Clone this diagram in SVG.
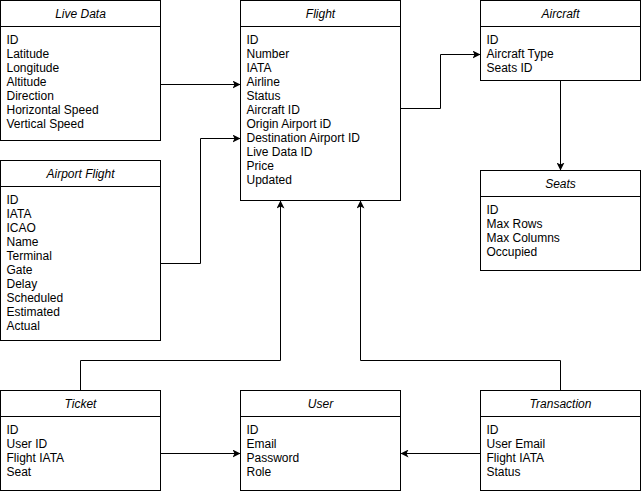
<svg xmlns="http://www.w3.org/2000/svg" width="641" height="494" viewBox="0 0 641 494">
<style>
  .box { fill: #ffffff; stroke: #000000; stroke-width: 1; }
  .sep { stroke: #000000; stroke-width: 1; }
  .hdr { font-family: "Liberation Sans", Arial, Helvetica, sans-serif; font-size: 12px; font-style: italic; text-anchor: middle; fill: #000000; }
  .fld { font-family: "Liberation Sans", Arial, Helvetica, sans-serif; font-size: 12px; fill: #000000; }
  .conn { fill: none; stroke: #000000; stroke-width: 1; marker-end: url(#arr); }
</style>
<defs>
  <marker id="arr" viewBox="0 0 8 8" markerWidth="8" markerHeight="8" refX="8" refY="4" orient="auto" markerUnits="userSpaceOnUse">
    <path d="M0,0 L8,4 L0,8 L2,4 Z" fill="#000000"/>
  </marker>
</defs>
<rect width="641" height="494" fill="#ffffff"/>

<g id="connectors">
  <path class="conn" d="M160.5,84.5 H240.5"/>
  <path class="conn" d="M160.5,263.5 H200.5 V138.5 H240.5"/>
  <path class="conn" d="M400.5,108.5 H440.5 V54.5 H480.5"/>
  <path class="conn" d="M560.5,80.5 V170.5"/>
  <path class="conn" d="M80.5,390.5 V360.5 H280.5 V200.5"/>
  <path class="conn" d="M560.5,390.5 V360.5 H360.5 V200.5"/>
  <path class="conn" d="M160.5,453.5 H240.5"/>
  <path class="conn" d="M480.5,453.5 H400.5"/>
</g>

<g id="live-data">
  <rect class="box" x="0.5" y="0.5" width="160" height="140"/>
  <line class="sep" x1="0.5" y1="26.5" x2="160.5" y2="26.5"/>
  <text class="hdr" x="80.5" y="18">Live Data</text>
  <text class="fld" x="6.5" y="44">ID</text>
  <text class="fld" x="6.5" y="58">Latitude</text>
  <text class="fld" x="6.5" y="72">Longitude</text>
  <text class="fld" x="6.5" y="86">Altitude</text>
  <text class="fld" x="6.5" y="100">Direction</text>
  <text class="fld" x="6.5" y="114">Horizontal Speed</text>
  <text class="fld" x="6.5" y="128">Vertical Speed</text>
</g>

<g id="airport-flight">
  <rect class="box" x="0.5" y="160.5" width="160" height="180"/>
  <line class="sep" x1="0.5" y1="186.5" x2="160.5" y2="186.5"/>
  <text class="hdr" x="80.5" y="178">Airport Flight</text>
  <text class="fld" x="6.5" y="204">ID</text>
  <text class="fld" x="6.5" y="218">IATA</text>
  <text class="fld" x="6.5" y="232">ICAO</text>
  <text class="fld" x="6.5" y="246">Name</text>
  <text class="fld" x="6.5" y="260">Terminal</text>
  <text class="fld" x="6.5" y="274">Gate</text>
  <text class="fld" x="6.5" y="288">Delay</text>
  <text class="fld" x="6.5" y="302">Scheduled</text>
  <text class="fld" x="6.5" y="316">Estimated</text>
  <text class="fld" x="6.5" y="330">Actual</text>
</g>

<g id="flight">
  <rect class="box" x="240.5" y="0.5" width="160" height="200"/>
  <line class="sep" x1="240.5" y1="26.5" x2="400.5" y2="26.5"/>
  <text class="hdr" x="320.5" y="18">Flight</text>
  <text class="fld" x="246.5" y="44">ID</text>
  <text class="fld" x="246.5" y="58">Number</text>
  <text class="fld" x="246.5" y="72">IATA</text>
  <text class="fld" x="246.5" y="86">Airline</text>
  <text class="fld" x="246.5" y="100">Status</text>
  <text class="fld" x="246.5" y="114">Aircraft ID</text>
  <text class="fld" x="246.5" y="128">Origin Airport iD</text>
  <text class="fld" x="246.5" y="142">Destination Airport ID</text>
  <text class="fld" x="246.5" y="156">Live Data ID</text>
  <text class="fld" x="246.5" y="170">Price</text>
  <text class="fld" x="246.5" y="184">Updated</text>
</g>

<g id="aircraft">
  <rect class="box" x="480.5" y="0.5" width="160" height="80"/>
  <line class="sep" x1="480.5" y1="26.5" x2="640.5" y2="26.5"/>
  <text class="hdr" x="560.5" y="18">Aircraft</text>
  <text class="fld" x="486.5" y="44">ID</text>
  <text class="fld" x="486.5" y="58">Aircraft Type</text>
  <text class="fld" x="486.5" y="72">Seats ID</text>
</g>

<g id="seats">
  <rect class="box" x="480.5" y="170.5" width="160" height="100"/>
  <line class="sep" x1="480.5" y1="196.5" x2="640.5" y2="196.5"/>
  <text class="hdr" x="560.5" y="188">Seats</text>
  <text class="fld" x="486.5" y="214">ID</text>
  <text class="fld" x="486.5" y="228">Max Rows</text>
  <text class="fld" x="486.5" y="242">Max Columns</text>
  <text class="fld" x="486.5" y="256">Occupied</text>
</g>

<g id="ticket">
  <rect class="box" x="0.5" y="390.5" width="160" height="100"/>
  <line class="sep" x1="0.5" y1="416.5" x2="160.5" y2="416.5"/>
  <text class="hdr" x="80.5" y="408">Ticket</text>
  <text class="fld" x="6.5" y="434">ID</text>
  <text class="fld" x="6.5" y="448">User ID</text>
  <text class="fld" x="6.5" y="462">Flight IATA</text>
  <text class="fld" x="6.5" y="476">Seat</text>
</g>

<g id="user">
  <rect class="box" x="240.5" y="390.5" width="160" height="100"/>
  <line class="sep" x1="240.5" y1="416.5" x2="400.5" y2="416.5"/>
  <text class="hdr" x="320.5" y="408">User</text>
  <text class="fld" x="246.5" y="434">ID</text>
  <text class="fld" x="246.5" y="448">Email</text>
  <text class="fld" x="246.5" y="462">Password</text>
  <text class="fld" x="246.5" y="476">Role</text>
</g>

<g id="transaction">
  <rect class="box" x="480.5" y="390.5" width="160" height="100"/>
  <line class="sep" x1="480.5" y1="416.5" x2="640.5" y2="416.5"/>
  <text class="hdr" x="560.5" y="408">Transaction</text>
  <text class="fld" x="486.5" y="434">ID</text>
  <text class="fld" x="486.5" y="448">User Email</text>
  <text class="fld" x="486.5" y="462">Flight IATA</text>
  <text class="fld" x="486.5" y="476">Status</text>
</g>
</svg>
